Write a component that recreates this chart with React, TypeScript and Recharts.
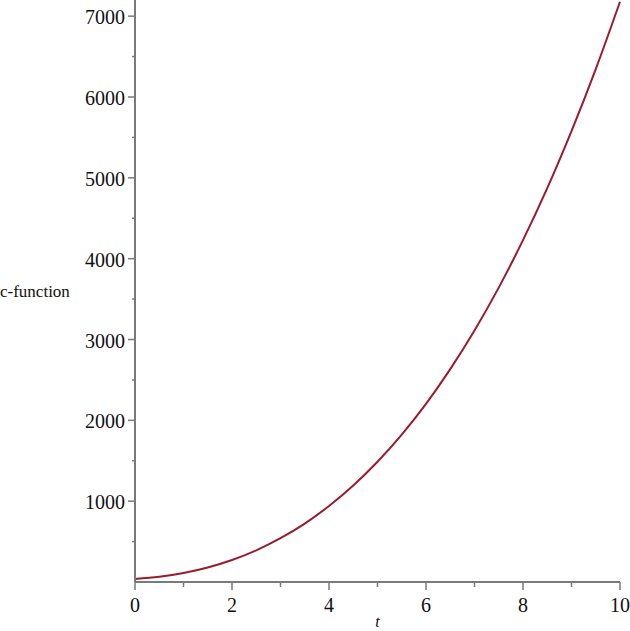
import React from 'react';
import { LineChart, Line, XAxis, YAxis } from 'recharts';

const tValues = [0, 0.5, 1, 1.5, 2, 2.5, 3, 3.5, 4, 4.5, 5, 5.5, 6, 6.5, 7, 7.5, 8, 8.5, 9, 9.5, 10];
const cValues = [37, 64, 111, 179, 272, 392, 542, 723, 940, 1194, 1488, 1824, 2204, 2634, 3112, 3642, 4229, 4872, 5577, 6344, 7178];
const xTicks = [0, 1, 2, 3, 4, 5, 6, 7, 8, 9, 10];
const yTicks = [500, 1000, 1500, 2000, 2500, 3000, 3500, 4000, 4500, 5000, 5500, 6000, 6500, 7000];

const data = tValues.map((t, i) => ({ t, c: cValues[i] }));

const FONT = '"Liberation Serif", "DejaVu Serif", serif';
const AXIS = '#7a7a7a';

const XTick = (props: any) => {
  const { x, y, payload } = props;
  const major = payload.value % 2 === 0;
  return (
    <g>
      <line x1={x} x2={x} y1={y} y2={y + (major ? 8 : 5)} stroke={AXIS} strokeWidth={1.5} />
      {major && (
        <text x={x} y={y + 23} textAnchor="middle" dominantBaseline="central" fontFamily={FONT} fontSize={20} fill="#111">
          {payload.value}
        </text>
      )}
    </g>
  );
};

const YTick = (props: any) => {
  const { x, y, payload } = props;
  const major = payload.value % 1000 === 0;
  return (
    <g>
      <line x1={x} x2={x - (major ? 7 : 3)} y1={y} y2={y} stroke={AXIS} strokeWidth={1.5} />
      {major && (
        <text x={x - 10} y={y + 1} textAnchor="end" dominantBaseline="central" fontFamily={FONT} fontSize={20} fill="#111">
          {payload.value}
        </text>
      )}
    </g>
  );
};

export default function App() {
  return (
    <div style={{ position: 'absolute', left: 0, top: 0, width: 630, height: 631, background: '#fff' }}>
      <LineChart width={630} height={631} data={data} margin={{ top: 0, right: 10, left: 0, bottom: 0 }}>
        <XAxis
          dataKey="t"
          type="number"
          domain={[0, 10]}
          ticks={xTicks}
          interval={0}
          height={49}
          tickSize={0}
          tickMargin={0}
          tickLine={false}
          axisLine={{ stroke: AXIS, strokeWidth: 2 }}
          tick={<XTick />}
          label={(p: any) => {
            const vb = p.viewBox;
            return (
              <text x={vb.x + vb.width / 2} y={627} textAnchor="middle" fontFamily={FONT} fontStyle="italic" fontSize={16} fill="#111">
                t
              </text>
            );
          }}
        />
        <YAxis
          type="number"
          domain={[0, 7200]}
          ticks={yTicks}
          interval={0}
          width={135}
          tickSize={0}
          tickMargin={0}
          tickLine={false}
          axisLine={{ stroke: AXIS, strokeWidth: 2 }}
          tick={<YTick />}
          label={(p: any) => {
            const vb = p.viewBox;
            return (
              <text x={0} y={vb.y + vb.height / 2} textAnchor="start" dominantBaseline="central" fontFamily={FONT} fontSize={17} fill="#111">
                c-function
              </text>
            );
          }}
        />
        <Line type="natural" dataKey="c" stroke="#9b1b2e" strokeWidth={2} dot={false} isAnimationActive={false} />
      </LineChart>
    </div>
  );
}
